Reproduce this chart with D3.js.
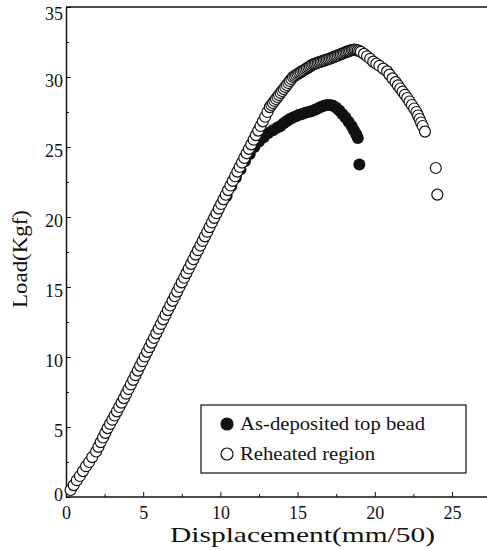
<!DOCTYPE html>
<meta charset="utf-8">
<style>
  body { margin: 0; background: #fff; }
  svg text { font-family: "Liberation Serif", "DejaVu Serif", serif; fill: #111; }
  .axis path, .axis line { stroke: #111; }
</style>
<body>
<div id="chart"></div>
<script src="https://d3js.org/d3.v7.min.js"></script>
<script>
  // values: displacement (mm/50) vs load (Kgf)
  var reheatedX = [0.30, 0.50, 0.70, 0.90, 1.10, 1.30, 1.50, 1.70, 1.95,
    2.10, 2.25, 2.40, 2.55, 2.70, 2.85, 3.00, 3.15, 3.30, 3.45, 3.60, 3.75, 3.90, 4.05, 4.20, 4.35,
    4.50, 4.65, 4.80, 4.95, 5.10, 5.25, 5.40, 5.55, 5.70, 5.85, 6.00, 6.15, 6.30, 6.45, 6.60, 6.75,
    6.90, 7.05, 7.20, 7.35, 7.50, 7.65, 7.80, 7.95, 8.10, 8.25, 8.40, 8.55, 8.70, 8.85, 9.00, 9.15,
    9.30, 9.45, 9.60, 9.75, 9.90, 10.05, 10.20, 10.35, 10.50, 10.65, 10.80, 10.95, 11.10, 11.25,
    11.40, 11.55, 11.70, 11.85, 12.00, 12.15, 12.30, 12.45, 12.60, 12.75, 12.90, 13.05, 13.20,
    13.30, 13.40, 13.50, 13.60, 13.70, 13.80, 13.90, 14.00, 14.10, 14.20, 14.30, 14.40, 14.50,
    14.60, 14.70, 14.80, 14.90, 15.00, 15.10, 15.20, 15.30, 15.40, 15.50, 15.60, 15.70, 15.80,
    15.90, 16.00, 16.10, 16.20, 16.30, 16.40, 16.50, 16.60, 16.70, 16.80, 16.90, 17.00, 17.10,
    17.20, 17.30, 17.40, 17.50, 17.60, 17.70, 17.80, 17.90, 18.00, 18.10, 18.20, 18.30, 18.40,
    18.50, 18.60, 18.70, 18.80, 18.90, 19.00,
    19.10, 19.30, 19.50, 19.70, 19.90, 20.10, 20.30, 20.55, 20.80, 20.95, 21.15, 21.35, 21.50,
    21.65, 21.80, 21.95, 22.10, 22.25, 22.40, 22.55, 22.70, 22.80, 22.90, 23.00, 23.10, 23.25,
    23.95, 24.05];
  var reheatedY = [0.50, 0.85, 1.20, 1.50, 1.85, 2.20, 2.50, 2.85, 3.25,
    3.58, 3.92, 4.25, 4.58, 4.92, 5.22, 5.52, 5.82, 6.12, 6.43, 6.74, 7.06, 7.38, 7.71, 8.04, 8.37,
    8.70, 9.03, 9.37, 9.70, 10.04, 10.37, 10.70, 11.03, 11.36, 11.69, 12.02, 12.36, 12.69, 13.02, 13.35, 13.68,
    14.01, 14.34, 14.67, 15.00, 15.33, 15.66, 15.99, 16.32, 16.65, 16.98, 17.31, 17.63, 17.96, 18.29, 18.62, 18.95,
    19.28, 19.61, 19.94, 20.27, 20.60, 20.93, 21.26, 21.59, 21.92, 22.25, 22.58, 22.91, 23.24, 23.57,
    23.89, 24.22, 24.55, 24.87, 25.19, 25.52, 25.85, 26.17, 26.50, 26.83, 27.16, 27.50, 27.85,
    28.00, 28.14, 28.29, 28.43, 28.57, 28.71, 28.86, 29.00, 29.14, 29.29, 29.43, 29.57, 29.72,
    29.86, 30.00, 30.07, 30.14, 30.21, 30.28, 30.35, 30.42, 30.48, 30.55, 30.62, 30.69, 30.76,
    30.83, 30.90, 30.94, 30.98, 31.02, 31.05, 31.09, 31.13, 31.17, 31.21, 31.25, 31.28, 31.32,
    31.36, 31.40, 31.45, 31.49, 31.54, 31.58, 31.63, 31.67, 31.72, 31.76, 31.81, 31.85, 31.88,
    31.92, 31.94, 31.95, 31.93, 31.90, 31.85,
    31.80, 31.65, 31.48, 31.30, 31.10, 30.95, 30.80, 30.60, 30.40, 30.17, 29.90, 29.63, 29.40,
    29.18, 28.95, 28.73, 28.50, 28.25, 28.00, 27.75, 27.50, 27.25, 27.00, 26.75, 26.50, 26.10,
    23.50, 21.60];

  var depositedX = [10.40, 10.70, 11.00, 11.30, 11.60, 11.90, 12.20, 12.50, 12.80, 13.10, 13.40,
    13.70, 13.90, 14.10, 14.30, 14.50, 14.70, 14.90, 15.10, 15.30, 15.50, 15.70, 15.90, 16.10,
    16.30, 16.50, 16.70, 16.90, 17.10, 17.30, 17.50, 17.70, 17.90, 18.10, 18.30, 18.50, 18.65,
    18.80, 18.90, 19.00];
  var depositedY = [21.50, 22.20, 22.80, 23.40, 24.00, 24.50, 25.00, 25.40, 25.70, 26.00, 26.20,
    26.40, 26.50, 26.70, 26.85, 27.00, 27.10, 27.20, 27.30, 27.35, 27.45, 27.50, 27.55, 27.65,
    27.75, 27.85, 27.95, 28.00, 28.00, 27.95, 27.80, 27.60, 27.35, 27.10, 26.80, 26.50, 26.20,
    25.90, 25.65, 23.75];

  var xTicks = [0, 5, 10, 15, 20, 25];
  var xMinor = [2.5, 7.5, 12.5, 17.5, 22.5];
  var yTicks = [0, 5, 10, 15, 20, 25, 30, 35];
  var yMinor = [2.5, 7.5, 12.5, 17.5, 22.5, 27.5, 32.5];
  var seriesNames = ["As-deposited top bead", "Reheated region"];

  var width = 487, height = 550;
  var svg = d3.select("#chart").append("svg")
    .attr("width", width)
    .attr("height", height);

  var x = d3.scaleLinear().domain([0, 27.5]).range([66, 490.6]);
  var y = d3.scaleLinear().domain([0, 35]).range([497, 7]);

  // top frame line
  svg.append("line")
    .attr("x1", x(0)).attr("x2", width)
    .attr("y1", y(35)).attr("y2", y(35))
    .attr("stroke", "#111").attr("stroke-width", 1.3);

  // minor ticks
  svg.append("g").attr("class", "axis")
    .attr("transform", "translate(0," + y(0) + ")")
    .call(d3.axisBottom(x).tickValues(xMinor).tickSize(-3).tickFormat(""))
    .call(function(g) { g.select(".domain").remove(); });
  svg.append("g").attr("class", "axis")
    .attr("transform", "translate(" + x(0) + ",0)")
    .call(d3.axisLeft(y).tickValues(yMinor).tickSize(-3).tickFormat(""))
    .call(function(g) { g.select(".domain").remove(); });

  var xAxis = svg.append("g").attr("class", "axis")
    .attr("transform", "translate(0," + y(0) + ")")
    .call(d3.axisBottom(x).tickValues(xTicks).tickSize(-5).tickSizeOuter(0).tickPadding(9));
  xAxis.select(".domain").attr("d", "M" + x(0) + ",0H" + width).attr("stroke-width", 1.5);
  xAxis.selectAll("text").style("font-size", "18px");

  var yAxis = svg.append("g").attr("class", "axis")
    .attr("transform", "translate(" + x(0) + ",0)")
    .call(d3.axisLeft(y).tickValues(yTicks).tickSize(-5).tickSizeOuter(0).tickPadding(3));
  yAxis.select(".domain").attr("stroke-width", 1.5);
  yAxis.selectAll("text").style("font-size", "18px")
    .attr("y", function(d) { return d === 35 ? 7 : (d === 0 ? -2 : 4); });

  // axis titles
  svg.append("text")
    .attr("x", 170).attr("y", 542)
    .attr("textLength", 265).attr("lengthAdjust", "spacingAndGlyphs")
    .style("font-size", "21px")
    .text("Displacement(mm/50)");

  svg.append("text")
    .attr("transform", "translate(27,308) rotate(-90)")
    .attr("textLength", 98).attr("lengthAdjust", "spacingAndGlyphs")
    .style("font-size", "20px")
    .text("Load(Kgf)");

  // series
  var deposited = depositedX.map(function(v, i) { return [v, depositedY[i]]; });
  var reheated = reheatedX.map(function(v, i) { return [v, reheatedY[i]]; });

  svg.append("g").selectAll("circle")
    .data(deposited)
    .enter().append("circle")
    .attr("cx", function(d) { return x(d[0]); })
    .attr("cy", function(d) { return y(d[1]); })
    .attr("r", 6)
    .attr("fill", "#111");

  svg.append("g").selectAll("circle")
    .data(reheated)
    .enter().append("circle")
    .attr("cx", function(d) { return x(d[0]); })
    .attr("cy", function(d) { return y(d[1]); })
    .attr("r", 5.5)
    .attr("fill", "#fff")
    .attr("stroke", "#111")
    .attr("stroke-width", 1.2);

  // legend
  var legend = svg.append("g");
  legend.append("rect")
    .attr("x", 201).attr("y", 405).attr("width", 265).attr("height", 68)
    .attr("fill", "#fff").attr("stroke", "#111").attr("stroke-width", 1.2);

  var rows = legend.selectAll("g.row")
    .data(seriesNames)
    .enter().append("g").attr("class", "row")
    .attr("transform", function(d, i) { return "translate(227," + (424 + i * 30) + ")"; });

  rows.append("circle")
    .attr("r", 6)
    .attr("fill", function(d, i) { return i === 0 ? "#111" : "#fff"; })
    .attr("stroke", "#111").attr("stroke-width", 1.2);

  rows.append("text")
    .attr("x", 13).attr("dy", "0.35em")
    .attr("textLength", function(d, i) { return i === 0 ? 185 : 135; })
    .attr("lengthAdjust", "spacingAndGlyphs")
    .style("font-size", "18px")
    .text(function(d) { return d; });
</script>
</body>
</html>
